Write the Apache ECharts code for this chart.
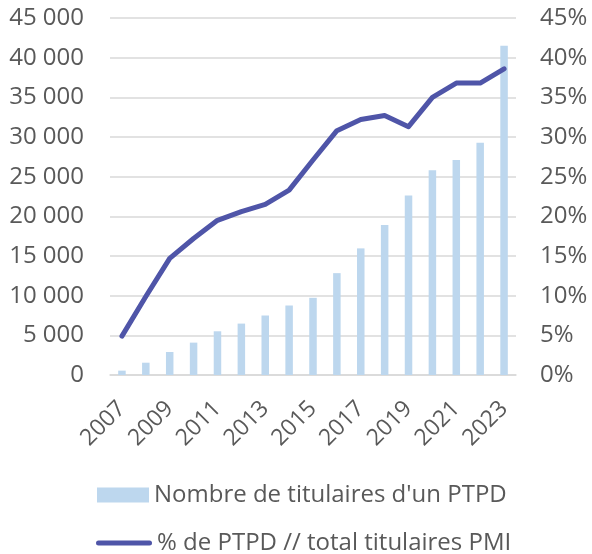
<!DOCTYPE html>
<html>
<head>
<meta charset="utf-8">
<script src="https://cdn.jsdelivr.net/npm/echarts@6/dist/echarts.min.js"></script>
<style>
  html, body { margin: 0; padding: 0; background: #fff; }
  #chart { width: 592px; height: 554px; }
</style>
</head>
<body>
<div id="chart"></div>
<script>
const years = ['2007', '2008', '2009', '2010', '2011', '2012', '2013', '2014', '2015',
  '2016', '2017', '2018', '2019', '2020', '2021', '2022', '2023'];
const holders = [550, 1550, 2900, 4080, 5510, 6480, 7500, 8760, 9730,
  12840, 15960, 18910, 22630, 25820, 27090, 29270, 41500];
const sharePct = [4.9, 9.9, 14.7, 17.2, 19.5, 20.6, 21.5, 23.3, 27.1,
  30.8, 32.2, 32.7, 31.3, 35.0, 36.8, 36.8, 38.6];

const barName = "Nombre de titulaires d'un PTPD";
const lineName = '% de PTPD // total titulaires PMI';
const textColor = '#595959';
const lineColor = '#4F55A8';
const fontFamily = '"Open Sans", sans-serif';

const chart = echarts.init(document.getElementById('chart'));
const option = {
  backgroundColor: '#fff',
  textStyle: { fontFamily: fontFamily },
  animation: false,
  grid: { left: 110, right: 76, top: 18, bottom: 179, containLabel: false },
  legend: [{
    left: 97,
    top: 483,
    padding: 0,
    itemWidth: 52,
    itemHeight: 15,
    data: [{ name: barName, icon: 'rect' }],
    textStyle: { color: textColor, fontSize: 24, fontFamily: fontFamily }
  }, {
    left: 96,
    top: 531,
    padding: 0,
    itemWidth: 56,
    itemHeight: 5,
    data: [{
      name: lineName,
      icon: 'path://M2.5,0 L53.5,0 A2.5,2.5 0 0 1 53.5,5 L2.5,5 A2.5,2.5 0 0 1 2.5,0 Z',
      itemStyle: { color: lineColor }
    }],
    textStyle: { color: textColor, fontSize: 24, fontFamily: fontFamily }
  }],
  xAxis: {
    type: 'category',
    data: years,
    axisLine: { lineStyle: { color: '#D9D9D9', width: 1.5 } },
    axisTick: { show: false },
    axisLabel: {
      interval: 1,
      rotate: 45,
      color: textColor,
      fontSize: 23,
      fontFamily: fontFamily,
      margin: 30
    }
  },
  yAxis: [{
    type: 'value',
    min: 0,
    max: 45000,
    interval: 5000,
    axisLine: { show: false },
    axisTick: { show: false },
    splitLine: { lineStyle: { color: '#D9D9D9', width: 1.5 } },
    axisLabel: {
      color: textColor,
      fontSize: 24,
      fontFamily: fontFamily,
      margin: 26,
      formatter: v => String(v).replace(/\B(?=(\d{3})+(?!\d))/g, ' ')
    }
  }, {
    type: 'value',
    min: 0,
    max: 45,
    interval: 5,
    axisLine: { show: false },
    axisTick: { show: false },
    splitLine: { show: false },
    axisLabel: {
      color: textColor,
      fontSize: 24,
      fontFamily: fontFamily,
      margin: 24,
      formatter: v => v + '%'
    }
  }],
  series: [{
    name: barName,
    type: 'bar',
    data: holders,
    barWidth: 7.5,
    itemStyle: { color: '#BDD7EE' }
  }, {
    name: lineName,
    type: 'line',
    yAxisIndex: 1,
    data: sharePct,
    symbol: 'none',
    lineStyle: { color: lineColor, width: 5, cap: 'round', join: 'round' },
    itemStyle: { color: lineColor }
  }]
};
chart.setOption(option);
</script>
</body>
</html>
